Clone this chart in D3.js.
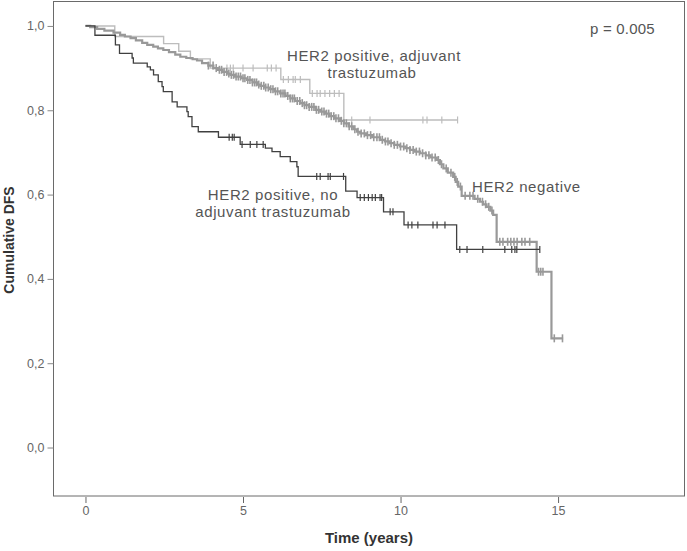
<!DOCTYPE html>
<html>
<head>
<meta charset="utf-8">
<script src="https://cdn.jsdelivr.net/npm/d3@7"></script>
<style>
  html, body { margin: 0; padding: 0; background: #fff; }
  svg { display: block; font-family: "Liberation Sans", Arial, sans-serif; }
</style>
</head>
<body>
<svg id="chart" width="687" height="551"></svg>
<script>
// ---------- DATA ----------
// HER2 negative (step times in years, survival after step)
const negTimes = [0.00,0.15,0.37,0.60,0.89,1.10,1.25,1.43,1.60,1.80,1.96,2.15,2.30,2.47,2.65,2.85,3.01,3.20,3.40,3.54,3.70,3.90,4.06,4.20,4.35,4.50,4.60,4.75,4.95,5.13,5.30,5.45,5.55,5.70,5.85,6.00,6.18,6.35,6.50,6.65,6.81,6.95,7.10,7.30,7.45,7.60,7.75,7.90,8.08,8.20,8.35,8.50,8.62,8.72,8.90,9.10,9.35,9.50,9.65,9.80,9.98,10.15,10.30,10.45,10.62,10.80,10.95,11.15,11.25,11.36,11.50,11.67,11.75,11.83,11.94,12.35,12.52,12.62,12.73,12.85,12.94,13.05,14.32,14.79];
const negSurv  = [1.000,0.997,0.993,0.989,0.984,0.979,0.975,0.971,0.966,0.960,0.955,0.951,0.947,0.943,0.938,0.932,0.927,0.924,0.921,0.918,0.912,0.906,0.900,0.896,0.891,0.887,0.884,0.880,0.876,0.872,0.866,0.861,0.858,0.854,0.850,0.845,0.840,0.834,0.828,0.822,0.817,0.812,0.808,0.801,0.797,0.792,0.786,0.781,0.775,0.769,0.762,0.755,0.749,0.745,0.741,0.736,0.730,0.726,0.722,0.718,0.714,0.710,0.706,0.702,0.698,0.693,0.688,0.682,0.672,0.662,0.652,0.642,0.630,0.619,0.597,0.590,0.583,0.577,0.571,0.562,0.552,0.488,0.417,0.259];
const negEnd = 15.16;
const negCensor = [3.9,4.05,4.15,4.25,4.32,4.4,4.48,4.55,4.63,4.7,4.78,4.85,4.92,5.0,5.06,5.15,5.22,5.3,5.37,5.43,5.5,5.58,5.66,5.72,5.8,5.88,5.95,6.03,6.1,6.2,6.27,6.33,6.42,6.5,6.57,6.63,6.72,6.8,6.88,6.95,7.02,7.1,7.18,7.25,7.33,7.4,7.5,7.57,7.65,7.72,7.8,7.88,7.95,8.03,8.12,8.2,8.28,8.37,8.45,8.55,8.65,8.75,8.85,8.95,9.05,9.15,9.25,9.33,9.42,9.52,9.6,9.7,9.8,9.9,10.0,10.1,10.2,10.3,10.4,10.5,10.6,10.7,10.8,10.9,11.0,11.1,11.2,11.3,11.45,11.6,11.72,11.8,11.9,12.05,12.2,12.3,12.45,12.6,12.7,12.8,12.9,13.15,13.25,13.4,13.5,13.6,13.7,13.85,13.95,14.1,14.38,14.45,14.52,14.88,15.14];

// HER2 positive, adjuvant trastuzumab
const adjTimes = [0.00,0.93,2.48,2.96,3.33,3.96,6.20,7.12,8.20];
const adjSurv  = [1.000,0.975,0.958,0.940,0.922,0.900,0.873,0.840,0.777];
const adjEnd = 11.82;
const adjCensor = [4.49,4.60,4.69,5.00,5.32,5.77,5.90,6.05,6.28,6.44,6.59,6.66,6.82,7.20,7.35,7.45,7.60,7.75,7.90,8.05,8.45,9.03,10.71,10.84,11.31,11.81];

// HER2 positive, no adjuvant trastuzumab
const noTimes = [0.00,0.30,0.95,1.08,1.48,1.52,1.96,2.06,2.16,2.31,2.43,2.47,2.75,2.91,3.22,3.26,3.38,3.58,4.22,4.91,5.71,5.92,6.18,6.50,6.71,6.75,8.26,8.62,9.46,10.11,11.78];
const noSurv  = [1.000,0.978,0.955,0.935,0.924,0.912,0.903,0.896,0.884,0.868,0.856,0.844,0.820,0.808,0.797,0.785,0.761,0.749,0.736,0.719,0.710,0.702,0.690,0.678,0.666,0.643,0.608,0.593,0.559,0.528,0.470];
const noEnd = 14.42;
const noCensor = [4.56,4.66,4.72,4.97,5.23,5.44,5.64,7.34,7.45,7.70,7.77,8.19,8.72,8.85,8.98,9.10,9.20,9.35,9.40,9.67,9.76,10.24,10.36,10.55,11.03,11.16,11.41,11.88,12.11,12.61,13.31,13.53,13.63,13.69,14.42];

const xTicks = [0, 5, 10, 15];
const yTicks = [0, 0.2, 0.4, 0.6, 0.8, 1.0];

const labelNeg = "HER2 negative";
const labelAdj = ["HER2 positive, adjuvant", "trastuzumab"];
const labelNo = ["HER2 positive, no", "adjuvant trastuzumab"];
const pText = "p = 0.005";

// ---------- CHART ----------
const svg = d3.select("#chart");
const frame = { left: 53.5, top: 1.5, right: 684.5, bottom: 496 };

const x = d3.scaleLinear().domain([-1.015, 19]).range([frame.left, 684.1]);
const y = d3.scaleLinear().domain([-0.115, 1.058]).range([frame.bottom, frame.top]);

// frame
svg.append("rect")
  .attr("x", frame.left).attr("y", frame.top)
  .attr("width", frame.right - frame.left).attr("height", frame.bottom - frame.top)
  .attr("fill", "none").attr("stroke", "#6a6a6a").attr("stroke-width", 1);

// y axis
const yAxis = d3.axisLeft(y).tickValues(yTicks).tickSize(6).tickPadding(3)
  .tickFormat(d => d3.format(".1f")(d).replace(".", ","));
const gy = svg.append("g").attr("transform", `translate(${frame.left},0)`).call(yAxis);
gy.select(".domain").remove();
gy.selectAll("line").attr("stroke", "#888");
gy.selectAll("text").attr("fill", "#666").style("font-size", "12.5px").style("font-family", "Liberation Sans, Arial, sans-serif");

// x axis
const xAxis = d3.axisBottom(x).tickValues(xTicks).tickSize(6).tickPadding(3).tickFormat(d3.format("d"));
const gx = svg.append("g").attr("transform", `translate(0,${frame.bottom + 1})`).call(xAxis);
gx.select(".domain").remove();
gx.selectAll("line").attr("stroke", "#666");
gx.selectAll("text").attr("fill", "#666").style("font-size", "12.5px").style("font-family", "Liberation Sans, Arial, sans-serif");

// axis titles
svg.append("text").attr("x", 369).attr("y", 543).attr("text-anchor", "middle")
  .attr("font-weight", "bold").attr("font-size", 15).attr("fill", "#333").text("Time (years)");
svg.append("text").attr("transform", "translate(14,240) rotate(-90)").attr("text-anchor", "middle")
  .attr("font-weight", "bold").attr("font-size", 14).attr("fill", "#333").text("Cumulative DFS");

// curves
function stepPoints(times, surv, end) {
  const pts = times.map((t, i) => [t, surv[i]]);
  pts.push([end, surv[surv.length - 1]]);
  return pts;
}
function survAt(times, surv, t) {
  let s = surv[0];
  for (let i = 0; i < times.length; i++) if (times[i] <= t) s = surv[i];
  return s;
}
const line = d3.line().x(d => x(d[0])).y(d => y(d[1])).curve(d3.curveStepAfter);

const series = [
  { times: adjTimes, surv: adjSurv, end: adjEnd, censor: adjCensor, color: "#bdbdbd", width: 1.4, tick: 3.5, cw: 1.2 },
  { times: negTimes, surv: negSurv, end: negEnd, censor: negCensor, color: "#999999", width: 2.2, tick: 4, cw: 1.6 },
  { times: noTimes, surv: noSurv, end: noEnd, censor: noCensor, color: "#404040", width: 1.3, tick: 3.5, cw: 1.2 }
];

series.forEach(s => {
  svg.append("path").datum(stepPoints(s.times, s.surv, s.end))
    .attr("d", line).attr("fill", "none").attr("stroke", s.color).attr("stroke-width", s.width);
  svg.append("g").selectAll("line").data(s.censor).join("line")
    .attr("x1", d => x(d)).attr("x2", d => x(d))
    .attr("y1", d => y(survAt(s.times, s.surv, d)) - s.tick)
    .attr("y2", d => y(survAt(s.times, s.surv, d)) + s.tick)
    .attr("stroke", s.color).attr("stroke-width", s.cw);
});

// annotations
const ann = svg.append("g").attr("fill", "#555").attr("font-size", 15).attr("letter-spacing", 0.6);
ann.append("text").attr("x", 374).attr("y", 60.5).attr("text-anchor", "middle").text(labelAdj[0]);
ann.append("text").attr("x", 372).attr("y", 77.5).attr("text-anchor", "middle").text(labelAdj[1]);
ann.append("text").attr("x", 273).attr("y", 199.5).attr("text-anchor", "middle").text(labelNo[0]);
ann.append("text").attr("x", 273).attr("y", 216.5).attr("text-anchor", "middle").text(labelNo[1]);
ann.append("text").attr("x", 472).attr("y", 191.5).text(labelNeg);
ann.append("text").attr("x", 590).attr("y", 34).attr("letter-spacing", 0.2).text(pText);
</script>
</body>
</html>
